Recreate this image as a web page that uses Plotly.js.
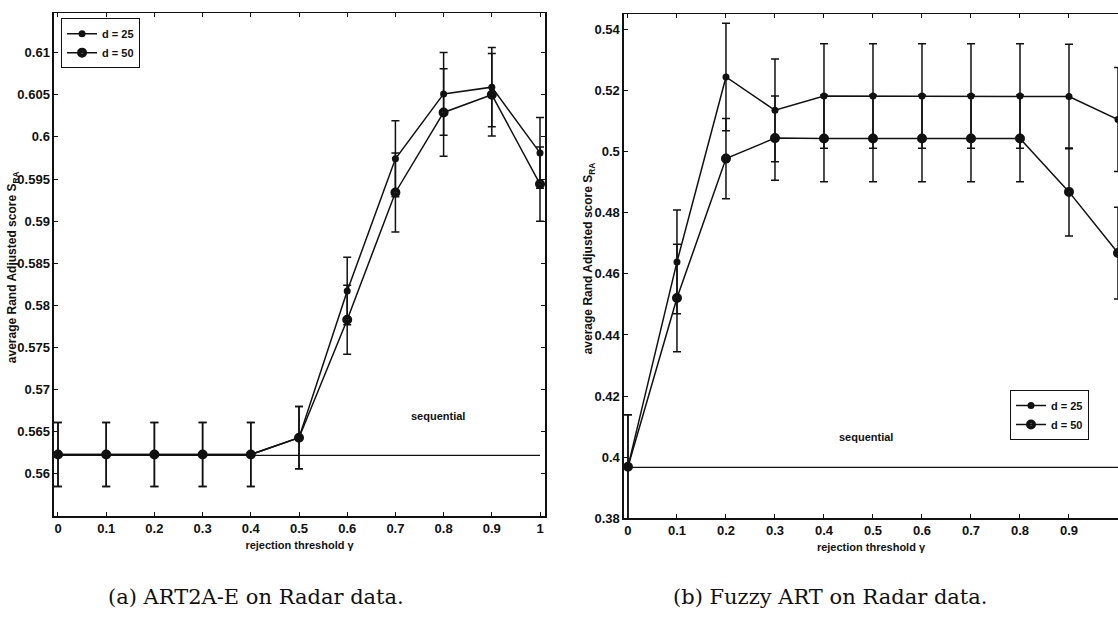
<!DOCTYPE html>
<html>
<head>
<meta charset="utf-8">
<script src="https://cdn.plot.ly/plotly-3.0.1.min.js"></script>
<style>
  html, body { margin: 0; padding: 0; background: #ffffff; overflow: hidden; }
  #chart { width: 1118px; height: 626px; }
</style>
</head>
<body>
<div id="chart"></div>
<script>
// rejection threshold gamma (shared by both panels)
const gamma = [0, 0.1, 0.2, 0.3, 0.4, 0.5, 0.6, 0.7, 0.8, 0.9, 1.0];
const xTicks = [0, 0.1, 0.2, 0.3, 0.4, 0.5, 0.6, 0.7, 0.8, 0.9, 1];

// (a) ART2A-E on Radar data
const art2aD25 = [0.5623, 0.5623, 0.5623, 0.5623, 0.5623, 0.5643, 0.5817, 0.5974, 0.6051, 0.6059, 0.5981];
const art2aD25Err = [0.0038, 0.0038, 0.0038, 0.0038, 0.0038, 0.0037, 0.0040, 0.0045, 0.0049, 0.0047, 0.0042];
const art2aD50 = [0.5623, 0.5623, 0.5623, 0.5623, 0.5623, 0.5643, 0.5783, 0.5934, 0.6029, 0.6050, 0.5944];
const art2aD50Err = [0.0038, 0.0038, 0.0038, 0.0038, 0.0038, 0.0037, 0.0041, 0.0047, 0.0052, 0.0049, 0.0044];
const art2aSequential = 0.5622;
const art2aYTicks = [0.56, 0.565, 0.57, 0.575, 0.58, 0.585, 0.59, 0.595, 0.6, 0.605, 0.61];

// (b) Fuzzy ART on Radar data
const fuzzyD25 = [0.3969, 0.4639, 0.5244, 0.5135, 0.5182, 0.5182, 0.5182, 0.5182, 0.5182, 0.5180, 0.5105];
const fuzzyD25Err = [0.0170, 0.0170, 0.0176, 0.0168, 0.0171, 0.0171, 0.0171, 0.0171, 0.0171, 0.0171, 0.0170];
const fuzzyD50 = [0.3969, 0.4521, 0.4977, 0.5044, 0.5043, 0.5043, 0.5043, 0.5043, 0.5043, 0.4868, 0.4668];
const fuzzyD50Err = [0.0170, 0.0176, 0.0131, 0.0138, 0.0142, 0.0142, 0.0142, 0.0142, 0.0142, 0.0144, 0.0150];
const fuzzySequential = 0.3967;
const fuzzyYTicks = [0.38, 0.4, 0.42, 0.44, 0.46, 0.48, 0.5, 0.52, 0.54];

const seriesNames = ['d = 25', 'd = 50'];
const yTitle = 'average Rand Adjusted score S<sub>RA</sub>';
const xTitle = 'rejection threshold γ';
const captions = ['(a) ART2A-E on Radar data.', '(b) Fuzzy ART on Radar data.'];

const INK = '#111111';
const SANS = 'Liberation Sans, Arial, sans-serif';
const tickFont = { family: SANS, size: 13, color: INK, weight: 'bold' };
const legendFont = { family: SANS, size: 11, color: INK, weight: 'bold' };
const smallFont = { family: SANS, size: 11, color: INK, weight: 'bold' };
const titleFont = { family: SANS, size: 12, color: INK, weight: 'bold' };
const captionFont = { family: 'DejaVu Serif, serif', size: 21, color: INK };

function errBars(arr) {
  return { type: 'data', array: arr, visible: true, color: INK, thickness: 1.5, width: 4 };
}

function seriesTraces(xa, ya, legendId, v25, e25, v50, e50, seqValue) {
  return [
    {
      x: [gamma[0], gamma[gamma.length - 1]], y: [seqValue, seqValue],
      xaxis: xa, yaxis: ya, mode: 'lines', showlegend: false, hoverinfo: 'skip',
      line: { color: INK, width: 1.3 }
    },
    {
      x: gamma, y: v25, xaxis: xa, yaxis: ya, name: seriesNames[0], legend: legendId,
      mode: 'lines+markers',
      line: { color: INK, width: 1.5 },
      marker: { symbol: 'circle', size: 7, color: INK },
      error_y: errBars(e25)
    },
    {
      x: gamma, y: v50, xaxis: xa, yaxis: ya, name: seriesNames[1], legend: legendId,
      mode: 'lines+markers',
      line: { color: INK, width: 1.5 },
      marker: { symbol: 'circle-open', size: 6, color: INK, line: { color: INK, width: 4 } },
      error_y: errBars(e50)
    }
  ];
}

const data = [].concat(
  seriesTraces('x', 'y', 'legend', art2aD25, art2aD25Err, art2aD50, art2aD50Err, art2aSequential),
  seriesTraces('x2', 'y2', 'legend2', fuzzyD25, fuzzyD25Err, fuzzyD50, fuzzyD50Err, fuzzySequential)
);

function xAxis(domain, range, anchor) {
  return {
    domain: domain, range: range, anchor: anchor,
    tickvals: xTicks, ticks: 'inside', ticklen: 4, tickwidth: 1, tickcolor: INK,
    showline: true, linecolor: INK, linewidth: 1.5, mirror: 'ticks',
    showgrid: false, zeroline: false, tickfont: tickFont,
    title: { text: xTitle, font: smallFont, standoff: 6 }
  };
}

function yAxis(domain, range, anchor, tickvals, mirror) {
  return {
    domain: domain, range: range, anchor: anchor,
    tickvals: tickvals, ticks: 'inside', ticklen: 4, tickwidth: 1, tickcolor: INK,
    showline: true, linecolor: INK, linewidth: 1.5, mirror: mirror,
    showgrid: false, zeroline: false, tickfont: tickFont
  };
}

const legendStyle = {
  bgcolor: '#ffffff', bordercolor: INK, borderwidth: 1,
  font: legendFont, itemwidth: 30, tracegroupgap: 0,
  xanchor: 'left', yanchor: 'top', xref: 'paper', yref: 'paper'
};

function note(text, xref, yref, x, y, font, extra) {
  return Object.assign({ text: text, xref: xref, yref: yref, x: x, y: y, showarrow: false,
    xanchor: 'center', yanchor: 'middle', font: font }, extra || {});
}

const layout = {
  width: 1118, height: 626,
  margin: { l: 0, r: 0, t: 0, b: 0 },
  paper_bgcolor: '#ffffff', plot_bgcolor: '#ffffff',
  showlegend: true,
  xaxis: xAxis([0.0483, 0.4875], [-0.0083, 1.0104], 'y'),
  yaxis: yAxis([0.1757, 0.9792], [0.555, 0.6147], 'x', art2aYTicks, 'ticks'),
  xaxis2: xAxis([0.5581, 1.0], [-0.0082, 1.0], 'y2'),
  yaxis2: yAxis([0.172, 0.9776], [0.38, 0.545], 'x2', fuzzyYTicks, false),
  legend: Object.assign({}, legendStyle, { x: 0.0546, y: 0.971 }),
  legend2: Object.assign({}, legendStyle, { x: 0.9034, y: 0.377 }),
  annotations: [
    note(yTitle, 'paper', 'paper', 0.0118, 0.5735, titleFont, { textangle: -90 }),
    note(yTitle, 'paper', 'paper', 0.5272, 0.588, titleFont, { textangle: -90 }),
    note('sequential', 'x', 'y', 0.788, 0.5669, smallFont),
    note('sequential', 'x2', 'y2', 0.485, 0.4067, smallFont),
    note(captions[0], 'paper', 'paper', 0.229, 0.046, captionFont),
    note(captions[1], 'paper', 'paper', 0.743, 0.046, captionFont)
  ]
};

Plotly.newPlot('chart', data, layout, { displayModeBar: false, staticPlot: true });
</script>
</body>
</html>
